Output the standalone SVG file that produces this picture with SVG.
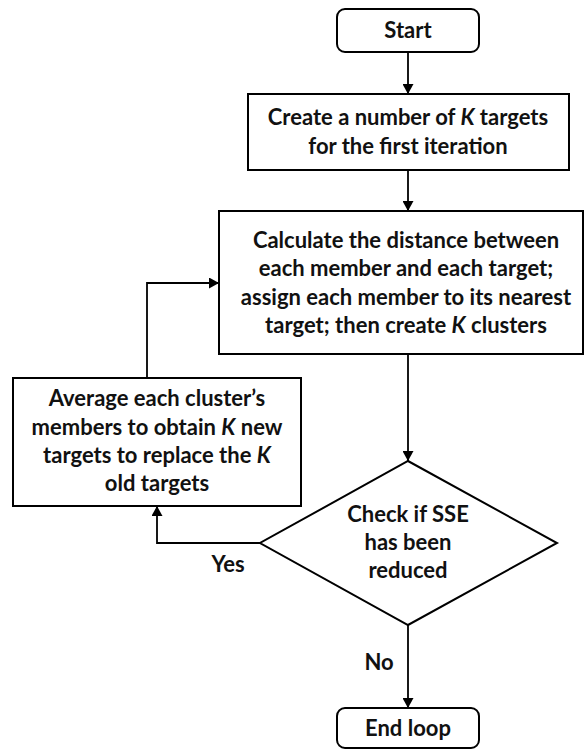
<svg xmlns="http://www.w3.org/2000/svg" width="585" height="749" viewBox="0 0 585 749">
<defs>
<marker id="ah" viewBox="0 0 10 10" refX="10" refY="5" markerWidth="10" markerHeight="11" markerUnits="userSpaceOnUse" orient="auto" preserveAspectRatio="none">
<path d="M0,0 L10,5 L0,10 Z" fill="#000"/>
</marker>
<style>
.box{fill:#fff;stroke:#000;stroke-width:2}
.t{font-family:Lato,"Liberation Sans",sans-serif;font-weight:bold;font-size:22px;fill:#111;text-anchor:middle}
.k{font-style:italic}
.c{fill:none;stroke:#000;stroke-width:1.8}
</style>
</defs>
<rect width="585" height="749" fill="#fff"/>
<g id="connectors">
<line class="c" x1="408" y1="52" x2="408" y2="94" marker-end="url(#ah)"/>
<line class="c" x1="408" y1="170" x2="408" y2="211" marker-end="url(#ah)"/>
<line class="c" x1="408" y1="354" x2="408" y2="461" marker-end="url(#ah)"/>
<polyline class="c" points="147,378 147,283 219,283" marker-end="url(#ah)"/>
<polyline class="c" points="260,543 157,543 157,506" marker-end="url(#ah)"/>
<line class="c" x1="408" y1="625" x2="408" y2="708" marker-end="url(#ah)"/>
<text class="t" x="228" y="572">Yes</text>
<text class="t" x="379" y="670">No</text>
</g>
<g id="start">
<rect class="box" x="337" y="9" width="142" height="43" rx="8"/>
<text class="t" x="408" y="38">Start</text>
</g>
<g id="create">
<rect class="box" x="248" y="94" width="321" height="76"/>
<text class="t" x="408" y="125">Create a number of <tspan class="k">K</tspan> targets</text>
<text class="t" x="408" y="154">for the first iteration</text>
</g>
<g id="calculate">
<rect class="box" x="219" y="211" width="364" height="143"/>
<text class="t" x="406" y="248">Calculate the distance between</text>
<text class="t" x="406" y="276">each member and each target;</text>
<text class="t" x="406" y="305">assign each member to its nearest</text>
<text class="t" x="406" y="333">target; then create <tspan class="k">K</tspan> clusters</text>
</g>
<g id="average">
<rect class="box" x="13" y="378" width="288" height="128"/>
<text class="t" x="157" y="406">Average each cluster’s</text>
<text class="t" x="157" y="435">members to obtain <tspan class="k">K</tspan> new</text>
<text class="t" x="157" y="463">targets to replace the <tspan class="k">K</tspan></text>
<text class="t" x="157" y="491">old targets</text>
</g>
<g id="check">
<polygon class="box" points="408,461 557,543 408,625 260,543"/>
<text class="t" x="408" y="522">Check if SSE</text>
<text class="t" x="408" y="550">has been</text>
<text class="t" x="408" y="578">reduced</text>
</g>
<g id="end">
<rect class="box" x="337" y="708" width="142" height="40" rx="8"/>
<text class="t" x="408" y="736">End loop</text>
</g>
</svg>
